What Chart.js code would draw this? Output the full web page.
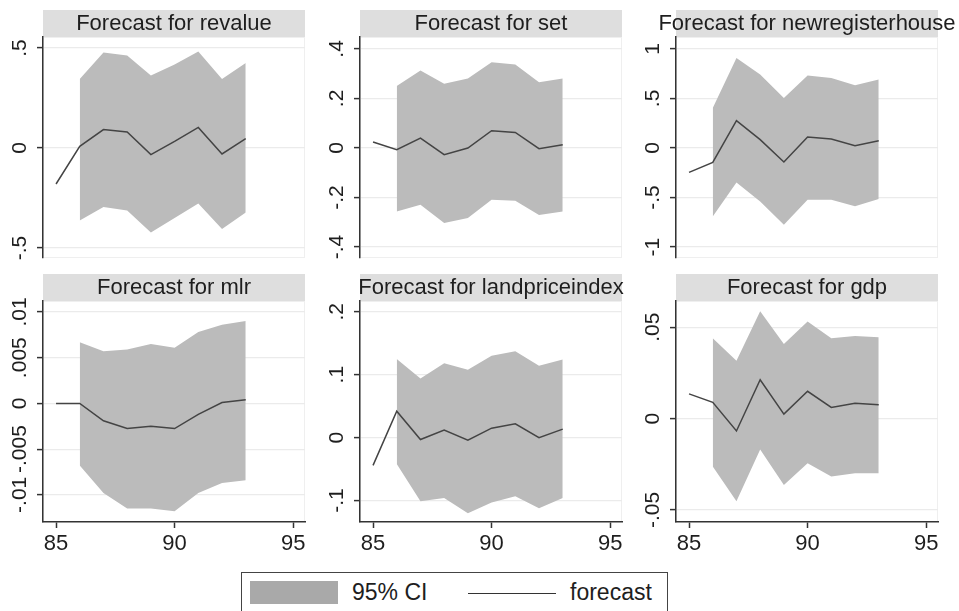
<!DOCTYPE html>
<html>
<head>
<meta charset="utf-8">
<title>Forecasts</title>
<script src="https://cdn.jsdelivr.net/npm/chart.js@4.4.0/dist/chart.umd.min.js"></script>
<style>
    body { margin: 0; background: #fff; width: 959px; height: 611px; overflow: hidden; position: relative; font-family: "Liberation Sans", Arial, sans-serif; }
    canvas { position: absolute; }
    #legend { position: absolute; left: 241px; top: 572px; width: 427px; height: 60px; border: 1.5px solid #444; box-sizing: border-box; color: #1e1e1e; font-size: 23px; }
    #legend .swatch { position: absolute; left: 8px; top: 8px; width: 88px; height: 23px; background: #a9a9a9; }
    #legend .line { position: absolute; left: 226px; top: 20px; width: 88px; height: 0; border-top: 1.5px solid #333; }
    #legend .lbl { position: absolute; top: 5px; line-height: 28px; }
</style>
</head>
<body>
<canvas id="c1" width="320" height="260" style="left:0;top:0"></canvas>
<canvas id="c2" width="320" height="260" style="left:317px;top:0"></canvas>
<canvas id="c3" width="326" height="260" style="left:633px;top:0"></canvas>
<canvas id="c4" width="320" height="298" style="left:0;top:264px"></canvas>
<canvas id="c5" width="320" height="298" style="left:317px;top:264px"></canvas>
<canvas id="c6" width="326" height="298" style="left:633px;top:264px"></canvas>
<div id="legend">
    <div class="swatch"></div>
    <span class="lbl" style="left:110px">95% CI</span>
    <div class="line"></div>
    <span class="lbl" style="left:328px">forecast</span>
</div>
<script>
"use strict";

// years on the x axis
const years = [85, 86, 87, 88, 89, 90, 91, 92, 93];
const bandYears = [86, 87, 88, 89, 90, 91, 92, 93];
const xTicks = [85, 90, 95];

// revalue
const revalueFc = [-0.18, 0.008, 0.092, 0.08, -0.033, 0.033, 0.103, -0.03, 0.047];
const revalueHi = [0.345, 0.478, 0.462, 0.362, 0.417, 0.483, 0.345, 0.425];
const revalueLo = [-0.362, -0.295, -0.312, -0.422, -0.35, -0.278, -0.405, -0.322];
const revalueTicks = [-0.5, 0, 0.5];
const revalueLabels = ["-.5", "0", ".5"];

// set
const setFc = [0.024, -0.007, 0.04, -0.027, 0.0, 0.07, 0.063, -0.003, 0.013];
const setHi = [0.25, 0.313, 0.259, 0.28, 0.346, 0.337, 0.265, 0.28];
const setLo = [-0.256, -0.229, -0.303, -0.283, -0.209, -0.213, -0.27, -0.256];
const setTicks = [-0.4, -0.2, 0, 0.2, 0.4];
const setLabels = ["-.4", "-.2", "0", ".2", ".4"];

// newregisterhouse
const nrhFc = [-0.246, -0.145, 0.276, 0.084, -0.141, 0.111, 0.091, 0.024, 0.074];
const nrhHi = [0.404, 0.909, 0.741, 0.505, 0.731, 0.707, 0.633, 0.69];
const nrhLo = [-0.69, -0.347, -0.539, -0.774, -0.522, -0.522, -0.589, -0.515];
const nrhTicks = [-1, -0.5, 0, 0.5, 1];
const nrhLabels = ["-1", "-.5", "0", ".5", "1"];

// mlr
const mlrFc = [0, 0, -0.0019, -0.00275, -0.0025, -0.00275, -0.0012, 0.0001, 0.0004];
const mlrHi = [0.0067, 0.0057, 0.0059, 0.0065, 0.0061, 0.0078, 0.0086, 0.009];
const mlrLo = [-0.0068, -0.0098, -0.0115, -0.0115, -0.0118, -0.0098, -0.0087, -0.0084];
const mlrTicks = [-0.01, -0.005, 0, 0.005, 0.01];
const mlrLabels = ["-.01", "-.005", "0", ".005", ".01"];

// landpriceindex
const lpiFc = [-0.044, 0.042, -0.003, 0.012, -0.004, 0.015, 0.022, 0.0, 0.0135];
const lpiHi = [0.125, 0.094, 0.118, 0.108, 0.13, 0.137, 0.114, 0.124];
const lpiLo = [-0.042, -0.101, -0.096, -0.12, -0.103, -0.093, -0.112, -0.096];
const lpiTicks = [-0.1, 0, 0.1, 0.2];
const lpiLabels = ["-.1", "0", ".1", ".2"];

// gdp
const gdpFc = [0.0135, 0.0089, -0.0068, 0.0212, 0.0024, 0.0149, 0.0061, 0.0083, 0.0076];
const gdpHi = [0.0439, 0.0316, 0.0587, 0.0408, 0.0531, 0.0439, 0.0452, 0.0445];
const gdpLo = [-0.0262, -0.0452, -0.017, -0.0363, -0.0244, -0.0317, -0.0299, -0.0299];
const gdpTicks = [-0.05, 0, 0.05];
const gdpLabels = ["-.05", "0", ".05"];

const fontFamily = '"Liberation Sans", Arial, sans-serif';
const bandColor = "#bbbbbb";
const lineColor = "#444444";
const axisColor = "#333333";
const textColor = "#1e1e1e";

// gray title bar + title, faint plot border and rotated y tick labels
const panelDecor = {
    id: "panelDecor",
    beforeDraw(chart) {
        const a = chart.chartArea;
        const ctx = chart.ctx;
        ctx.save();
        ctx.fillStyle = "#dedede";
        ctx.fillRect(a.left, a.top - 27, a.right - a.left, 27);
        ctx.strokeStyle = "#efefef";
        ctx.lineWidth = 1;
        ctx.strokeRect(a.left + 0.5, a.top + 0.5, a.right - a.left - 1, a.bottom - a.top - 1);
        ctx.restore();
    },
    afterDraw(chart, args, opts) {
        const a = chart.chartArea;
        const ctx = chart.ctx;
        const y = chart.scales.y;
        ctx.save();
        ctx.fillStyle = textColor;
        ctx.textAlign = "center";
        ctx.textBaseline = "middle";
        // title (allowed to run past the bar, like the original)
        ctx.font = "22px " + fontFamily;
        ctx.fillText(opts.title, (a.left + a.right) / 2, a.top - 13);
        ctx.font = "21px " + fontFamily;
        opts.ticks.forEach((v, i) => {
            ctx.save();
            ctx.translate(a.left - 23, y.getPixelForValue(v));
            ctx.rotate(-Math.PI / 2);
            ctx.fillText(opts.labels[i], 0, 0);
            ctx.restore();
        });
        ctx.restore();
    },
};

function makePanel(id, title, fc, hi, lo, ticks, labels, yMin, yMax, bottom, padRight) {
    return new Chart(document.getElementById(id), {
        type: "line",
        data: {
            datasets: [
                {
                    label: "upper",
                    data: bandYears.map((x, i) => ({ x: x, y: hi[i] })),
                    fill: "+1",
                    backgroundColor: bandColor,
                    borderColor: "rgba(0,0,0,0)",
                    borderWidth: 0,
                    pointRadius: 0,
                },
                {
                    label: "lower",
                    data: bandYears.map((x, i) => ({ x: x, y: lo[i] })),
                    fill: false,
                    borderColor: "rgba(0,0,0,0)",
                    borderWidth: 0,
                    pointRadius: 0,
                },
                {
                    label: "forecast",
                    data: years.map((x, i) => ({ x: x, y: fc[i] })),
                    fill: false,
                    borderColor: lineColor,
                    borderWidth: 1.5,
                    pointRadius: 0,
                },
            ],
        },
        options: {
            responsive: false,
            animation: false,
            layout: { padding: { top: 37, right: padRight, bottom: bottom ? 0 : 2, left: 0 } },
            plugins: {
                legend: { display: false },
                tooltip: { enabled: false },
                title: { display: false },
                filler: { drawTime: "beforeDatasetsDraw" },
                panelDecor: { title: title, ticks: ticks, labels: labels },
            },
            scales: {
                x: {
                    type: "linear",
                    min: 84.45,
                    max: 95.5,
                    display: bottom,
                    afterBuildTicks: (s) => {
                        s.ticks = xTicks.map((v) => ({ value: v }));
                    },
                    afterFit: (s) => {
                        s.height = bottom ? 40 : 0;
                    },
                    grid: { drawOnChartArea: false, tickLength: 6, tickColor: axisColor, tickWidth: 1.5 },
                    border: { color: axisColor, width: 1.5 },
                    ticks: {
                        color: textColor,
                        font: { size: 22, family: fontFamily },
                        maxRotation: 0,
                        autoSkip: false,
                        padding: 3,
                    },
                },
                y: {
                    min: yMin,
                    max: yMax,
                    afterBuildTicks: (s) => {
                        s.ticks = ticks.map((v) => ({ value: v }));
                    },
                    afterFit: (s) => {
                        s.width = 43;
                    },
                    grid: { color: "#ebebeb", lineWidth: 1.2, tickLength: 6, tickColor: axisColor, tickWidth: 1.5 },
                    border: { color: axisColor, width: 1.5 },
                    ticks: { display: false },
                },
            },
        },
        plugins: [panelDecor],
    });
}

makePanel("c1", "Forecast for revalue", revalueFc, revalueHi, revalueLo, revalueTicks, revalueLabels, -0.55, 0.555, false, 15);
makePanel("c2", "Forecast for set", setFc, setHi, setLo, setTicks, setLabels, -0.444, 0.448, false, 15);
makePanel("c3", "Forecast for newregisterhouse", nrhFc, nrhHi, nrhLo, nrhTicks, nrhLabels, -1.11, 1.12, false, 21);
makePanel("c4", "Forecast for mlr", mlrFc, mlrHi, mlrLo, mlrTicks, mlrLabels, -0.01297, 0.0112, true, 15);
makePanel("c5", "Forecast for landpriceindex", lpiFc, lpiHi, lpiLo, lpiTicks, lpiLabels, -0.134, 0.217, true, 15);
makePanel("c6", "Forecast for gdp", gdpFc, gdpHi, gdpLo, gdpTicks, gdpLabels, -0.0566, 0.0643, true, 21);
</script>
</body>
</html>
